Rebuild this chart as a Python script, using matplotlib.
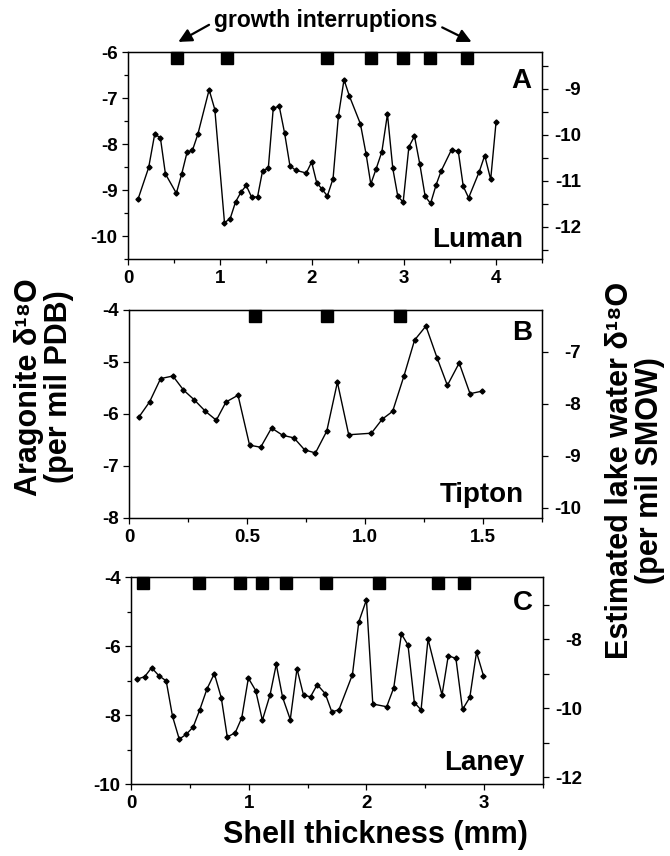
import matplotlib
matplotlib.use('Agg')
import matplotlib.pyplot as plt
from matplotlib.ticker import MultipleLocator, FixedLocator, FormatStrFormatter

plt.rcParams['font.family'] = ['Liberation Sans', 'DejaVu Sans']
plt.rcParams['font.weight'] = 'bold'

# Luman (A)
luman_x = [0.109, 0.225, 0.29, 0.352, 0.407, 0.526, 0.584, 0.642, 0.70, 0.759,
           0.882, 0.944, 1.049, 1.111, 1.169, 1.227, 1.285, 1.343, 1.408, 1.463,
           1.525, 1.579, 1.644, 1.702, 1.76, 1.822, 1.938, 1.996, 2.051, 2.105,
           2.167, 2.229, 2.287, 2.348, 2.407, 2.526, 2.588, 2.639, 2.697, 2.759,
           2.82, 2.878, 2.933, 2.991, 3.053, 3.114, 3.172, 3.23, 3.289, 3.35,
           3.405, 3.517, 3.59, 3.644, 3.702, 3.818, 3.877, 3.942, 4.0]
luman_y = [-9.20, -8.51, -7.79, -7.86, -8.65, -9.07, -8.65, -8.18, -8.14, -7.79,
           -6.82, -7.25, -9.71, -9.62, -9.26, -9.05, -8.90, -9.15, -9.15, -8.58,
           -8.53, -7.22, -7.18, -7.76, -8.47, -8.57, -8.63, -8.39, -8.84, -8.97,
           -9.13, -8.75, -7.39, -6.60, -6.96, -7.56, -8.22, -8.87, -8.54, -8.17,
           -7.35, -8.53, -9.14, -9.26, -8.06, -7.83, -8.44, -9.14, -9.29, -8.88,
           -8.58, -8.12, -8.16, -8.92, -9.17, -8.60, -8.25, -8.77, -7.53]
luman_gaps = [0.537, 1.078, 2.163, 2.646, 2.991, 3.285, 3.684]

# Tipton (B)
tipton_x = [0.042, 0.087, 0.134, 0.186, 0.231, 0.277, 0.324, 0.370, 0.411, 0.462,
            0.511, 0.558, 0.604, 0.651, 0.699, 0.744, 0.790, 0.838, 0.883, 0.931,
            1.027, 1.073, 1.117, 1.165, 1.210, 1.258, 1.306, 1.349, 1.399, 1.445,
            1.497]
tipton_y = [-6.06, -5.77, -5.32, -5.27, -5.54, -5.73, -5.95, -6.12, -5.77, -5.64,
            -6.60, -6.64, -6.27, -6.41, -6.46, -6.69, -6.75, -6.33, -5.39, -6.40,
            -6.37, -6.10, -5.95, -5.27, -4.58, -4.31, -4.93, -5.45, -5.02, -5.61,
            -5.56]
tipton_gaps = [0.535, 0.841, 1.148]

# Laney (C)
laney_x = [0.051, 0.116, 0.175, 0.237, 0.299, 0.353, 0.41, 0.469, 0.528, 0.584,
           0.646, 0.708, 0.767, 0.818, 0.886, 0.941, 0.997, 1.059, 1.116, 1.181,
           1.234, 1.288, 1.353, 1.41, 1.466, 1.525, 1.582, 1.65, 1.706, 1.766,
           1.881, 1.935, 2.0, 2.054, 2.172, 2.232, 2.297, 2.353, 2.407, 2.464,
           2.523, 2.642, 2.695, 2.76, 2.816, 2.878, 2.935, 2.994]
laney_y = [-6.96, -6.89, -6.63, -6.86, -7.01, -8.04, -8.70, -8.56, -8.35, -7.85,
           -7.24, -6.80, -7.50, -8.64, -8.51, -8.08, -6.93, -7.29, -8.15, -7.42,
           -6.53, -7.49, -8.13, -6.66, -7.43, -7.47, -7.12, -7.38, -7.91, -7.85,
           -6.83, -5.30, -4.66, -7.68, -7.76, -7.21, -5.65, -5.97, -7.64, -7.85,
           -5.80, -7.42, -6.28, -6.36, -7.84, -7.49, -6.18, -6.86]
laney_gaps = [0.105, 0.579, 0.929, 1.116, 1.314, 1.653, 2.11, 2.605, 2.825]

# offset aragonite -> lake water
water_offset = -2.2

fig = plt.figure(figsize=(6.7, 8.56), dpi=100)


def panel(rect, xs, ys, gaps, xlim, ylim, xmaj, xmin, ymaj, ymin,
          rmaj, rmin, letter, name, xfmt, letter_y, name_y):
    ax = fig.add_axes(rect)
    ax.plot(xs, ys, color='black', lw=1.0, marker='D', ms=2.6)
    ax.plot(gaps, [0.972] * len(gaps), 's', color='black', ms=8,
            transform=ax.get_xaxis_transform(), clip_on=False)
    ax.set_xlim(*xlim)
    ax.set_ylim(*ylim)
    ax.xaxis.set_major_locator(MultipleLocator(xmaj))
    ax.xaxis.set_minor_locator(MultipleLocator(xmin))
    ax.yaxis.set_major_locator(MultipleLocator(ymaj))
    if ymin:
        ax.yaxis.set_minor_locator(MultipleLocator(ymin))
    ax.xaxis.set_major_formatter(FormatStrFormatter(xfmt))
    ax.yaxis.set_major_formatter(FormatStrFormatter('%d'))
    ax.tick_params(which='both', direction='out', labelsize=13.5, width=0.9)
    ax.tick_params(which='major', length=4)
    ax.tick_params(which='minor', length=3)
    ax.tick_params(axis='x', pad=4)
    for s in ax.spines.values():
        s.set_linewidth(1.0)
    ax2 = ax.twinx()
    ax2.set_ylim(ylim[0] + water_offset, ylim[1] + water_offset)
    ax2.yaxis.set_major_locator(FixedLocator(rmaj))
    ax2.yaxis.set_minor_locator(FixedLocator(rmin))
    ax2.yaxis.set_major_formatter(FormatStrFormatter('%d'))
    ax2.tick_params(which='both', direction='out', labelsize=13.5, width=0.9)
    ax2.tick_params(which='major', length=4, pad=24)
    ax2.tick_params(which='minor', length=4)
    for lab in ax2.get_yticklabels():
        lab.set_horizontalalignment('right')
    ax.text(0.975, letter_y, letter, transform=ax.transAxes, ha='right',
            va='top', fontsize=20, fontweight='bold')
    ax.text(0.955, name_y, name, transform=ax.transAxes, ha='right',
            va='baseline', fontsize=20, fontweight='bold')
    return ax


ax_a = panel([0.191, 0.6974, 0.618, 0.2418], luman_x, luman_y, luman_gaps,
             (0, 4.5), (-10.5, -6), 1, 0.5, 1, 0.5,
             [-9, -10, -11, -12], [-8.5, -9.5, -10.5, -11.5, -12.5],
             'A', 'Luman', '%d', 0.925, 0.058)
ax_b = panel([0.1925, 0.3949, 0.6165, 0.243], tipton_x, tipton_y, tipton_gaps,
             (0, 1.75), (-8, -4), 0.5, 0.25, 1, None,
             [-7, -8, -9, -10], [],
             'B', 'Tipton', '%.1f', 0.952, 0.077)
ax_b.xaxis.set_major_formatter(
    plt.FuncFormatter(lambda v, p: '0' if v == 0 else '%.1f' % v))
ax_c = panel([0.1955, 0.0841, 0.615, 0.2418], laney_x, laney_y, laney_gaps,
             (0, 3.5), (-10, -4), 1, 0.5, 2, 1,
             [-8, -10, -12], [-7, -9, -11],
             'C', 'Laney', '%d', 0.937, 0.068)

# growth interruption annotation
fig.text(0.486, 0.976, 'growth interruptions', ha='center', va='center',
         fontsize=16.5, fontweight='bold')
arrow = dict(arrowstyle='-|>', lw=1.6, color='black',
             mutation_scale=20, shrinkA=0, shrinkB=0)
ax_a.annotate('', xy=(luman_gaps[0] + 0.01, -5.78), xycoords='data',
              xytext=(0.312, 0.971), textcoords='figure fraction',
              arrowprops=arrow, annotation_clip=False)
ax_a.annotate('', xy=(luman_gaps[-1] + 0.05, -5.78), xycoords='data',
              xytext=(0.66, 0.968), textcoords='figure fraction',
              arrowprops=arrow, annotation_clip=False)

fig.text(0.066, 0.548, 'Aragonite δ¹⁸O\n(per mil PDB)', rotation=90,
         ha='center', va='center', fontsize=22, fontweight='bold',
         multialignment='center', linespacing=1.0)
fig.text(0.948, 0.45, 'Estimated lake water δ¹⁸O\n(per mil SMOW)',
         rotation=90, ha='center', va='center', fontsize=22,
         fontweight='bold', multialignment='center', linespacing=1.0)
fig.text(0.561, 0.025, 'Shell thickness (mm)', ha='center', va='center',
         fontsize=22, fontweight='bold')

fig.savefig('out.png', dpi=100)
